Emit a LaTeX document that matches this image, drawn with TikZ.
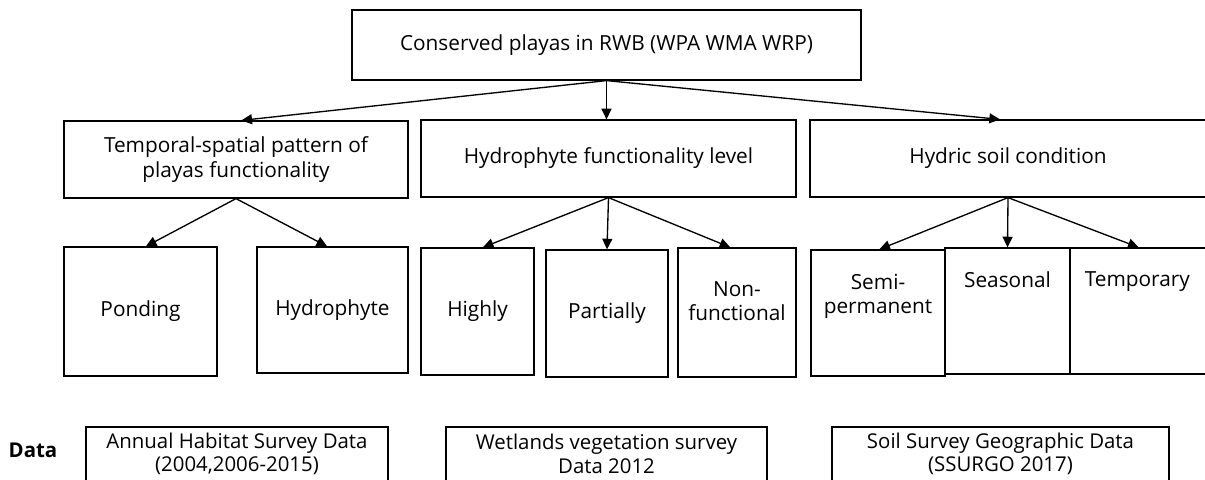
\documentclass[tikz,border=0pt]{standalone}
\usepackage{fontspec}
\setmainfont{Open Sans}
\usetikzlibrary{arrows.meta}
\begin{document}
\begin{tikzpicture}[x=0.75pt,y=-0.75pt,
  box/.style={draw=black, line width=0.9pt, inner sep=0pt, align=center, font=\fontsize{15.6}{18.5}\selectfont},
  tbox/.style={box, font=\fontsize{15.3}{17.5}\selectfont},
  conn/.style={line width=1pt, -{Triangle[length=8pt,width=7.5pt]}},
]
\useasboundingbox (0,0) rectangle (1205,479);
% level 1
\node[box, minimum width=381.75pt, minimum height=52.5pt] (top) at (606.5,45) {Conserved playas in RWB (WPA WMA WRP)};
% level 2
\node[box, minimum width=258pt, minimum height=57.75pt] (b1) at (236,159.5) {Temporal-spatial pattern of\\playas functionality};
\node[box, minimum width=281.25pt, minimum height=57.75pt] (b2) at (608.5,158.5) {Hydrophyte functionality level};
\node[box, minimum width=297pt, minimum height=57.75pt] (b3) at (1008,158.5) {Hydric soil condition};
% level 3
\node[box, minimum width=114.75pt, minimum height=96.75pt] (pond) at (140.5,311.5) {Ponding};
\node[box, minimum width=113.25pt, minimum height=94.5pt] (hydro) at (332.5,310) {Hydrophyte};
\node[box, minimum width=84.75pt, minimum height=95.25pt] (high) at (477.5,311.5) {Highly};
\node[box, minimum width=91.5pt, minimum height=95.25pt] (part) at (607,313.5) {Partially};
\node[box, minimum width=88.5pt, minimum height=96.75pt] (non) at (737,312.5) {};
\node[box, minimum width=100.5pt, minimum height=94.5pt] (semi) at (878,313) {};
\node[box, minimum width=93.75pt, minimum height=94.5pt] (seas) at (1007.5,311) {};
\node[box, minimum width=105pt, minimum height=94.5pt] (temp) at (1140,311) {};
\node[box, draw=none] (nont) at ([yshift=8.5pt]non.center) {Non-\\functional};
\node[box, draw=none, anchor=north] (semit) at ([yshift=-18pt]semi.north) {Semi-\\permanent};
\node[box, draw=none, anchor=north] (seast) at ([yshift=-18pt]seas.north) {Seasonal};
\node[box, draw=none, anchor=north] (tempt) at ([xshift=-2pt,yshift=-18pt]temp.north) {Temporary};
% data row
\node[font=\bfseries\fontsize{15.3}{17.5}\selectfont, inner sep=0pt] (data) at (33,450) {Data};
\node[tbox, minimum width=226.5pt, minimum height=40.5pt] (d1) at (237,454) {Annual Habitat Survey Data\\(2004,2006-2015)};
\node[tbox, minimum width=240.75pt, minimum height=40.5pt] (d2) at (606.5,454) {Wetlands vegetation survey\\Data 2012};
\node[tbox, minimum width=252.75pt, minimum height=40.5pt] (d3) at (1000.5,454) {Soil Survey Geographic Data\\(SSURGO 2017)};
% connectors
\draw[conn] (top.south) -- ([xshift=4pt]b1.north);
\draw[conn] (top.south) -- (top.south |- b2.north);
\draw[conn] (top.south) -- ([xshift=-6pt]b3.north);
\draw[conn] (b1.south) -- ([xshift=4pt]pond.north);
\draw[conn] (b1.south) -- ([xshift=-4pt]hydro.north);
\draw[conn] (b2.south) -- ([xshift=4pt]high.north);
\draw[conn] (b2.south) -- (part.north);
\draw[conn] (b2.south) -- ([xshift=-5pt]non.north);
\draw[conn] (b3.south) -- ([xshift=1pt]semi.north);
\draw[conn] (b3.south) -- (seas.north);
\draw[conn] (b3.south) -- ([xshift=-1pt]temp.north);
\end{tikzpicture}
\end{document}
